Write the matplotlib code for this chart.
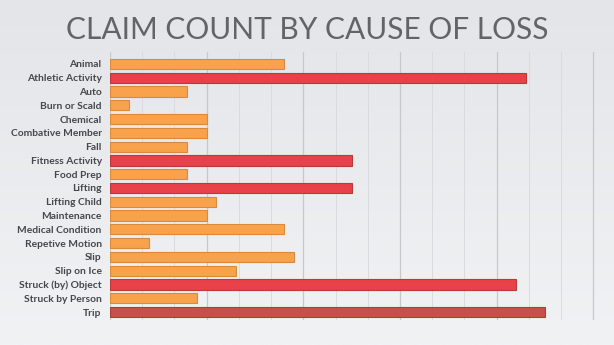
import numpy as np
import matplotlib
matplotlib.use("Agg")
import matplotlib.pyplot as plt

causes = ["Animal", "Athletic Activity", "Auto", "Burn or Scald", "Chemical",
          "Combative Member", "Fall", "Fitness Activity", "Food Prep", "Lifting",
          "Lifting Child", "Maintenance", "Medical Condition", "Repetive Motion",
          "Slip", "Slip on Ice", "Struck (by) Object", "Struck by Person", "Trip"]
counts = [18, 43, 8, 2, 10, 10, 8, 25, 8, 25, 11, 10, 18, 4, 19, 13, 42, 9, 45]
# o = orange, r = red, d = dark red
shade = ["o", "r", "o", "o", "o", "o", "o", "r", "o", "r",
         "o", "o", "o", "o", "o", "o", "r", "o", "d"]

fill = {"o": "#F9A24C", "r": "#E8414A", "d": "#C9504A"}
edge = {"o": "#D98A3A", "r": "#B83A3A", "d": "#A8403A"}

fig = plt.figure(figsize=(6.14, 3.45), dpi=100)

# background gradient
bg = fig.add_axes([0, 0, 1, 1], zorder=-10)
grad = np.linspace(0, 1, 256).reshape(-1, 1)
cmap = matplotlib.colors.LinearSegmentedColormap.from_list("bg", ["#E3E5E8", "#F1F2F4"])
bg.imshow(grad, aspect="auto", cmap=cmap, extent=[0, 1, 0, 1])
bg.axis("off")

fig.text(0.5, 0.912, "CLAIM COUNT BY CAUSE OF LOSS", ha="center", va="center",
         fontsize=21.5, color="#626467", family="Lato", fontweight="normal")

ax = fig.add_axes([110 / 614, 1 - 320 / 345, 492 / 614, 268 / 345])
ax.patch.set_alpha(0)
y = np.arange(len(causes))
ax.barh(y, counts, height=0.74,
        color=[fill[s] for s in shade], edgecolor=[edge[s] for s in shade],
        linewidth=0.8, zorder=3)

ax.set_xlim(0, 50.9)
ax.set_ylim(18.58, -0.87)
ax.set_yticks(y)
ax.set_yticklabels(causes, fontsize=7.4, fontweight="bold", color="#45474A",
                   family="Lato")
ax.tick_params(axis="y", length=0, pad=6)
ax.set_xticks(np.arange(0, 51, 10))
ax.set_xticks(np.arange(0, 50, 10 / 3), minor=True)
ax.tick_params(axis="x", which="both", length=0, labelbottom=False)
ax.grid(axis="x", which="major", color="#C6C8CB", linewidth=0.9, zorder=0)
ax.grid(axis="x", which="minor", color="#D9DBDE", linewidth=0.7, zorder=0)
for s in ax.spines.values():
    s.set_visible(False)

fig.savefig("out.png", dpi=100)
